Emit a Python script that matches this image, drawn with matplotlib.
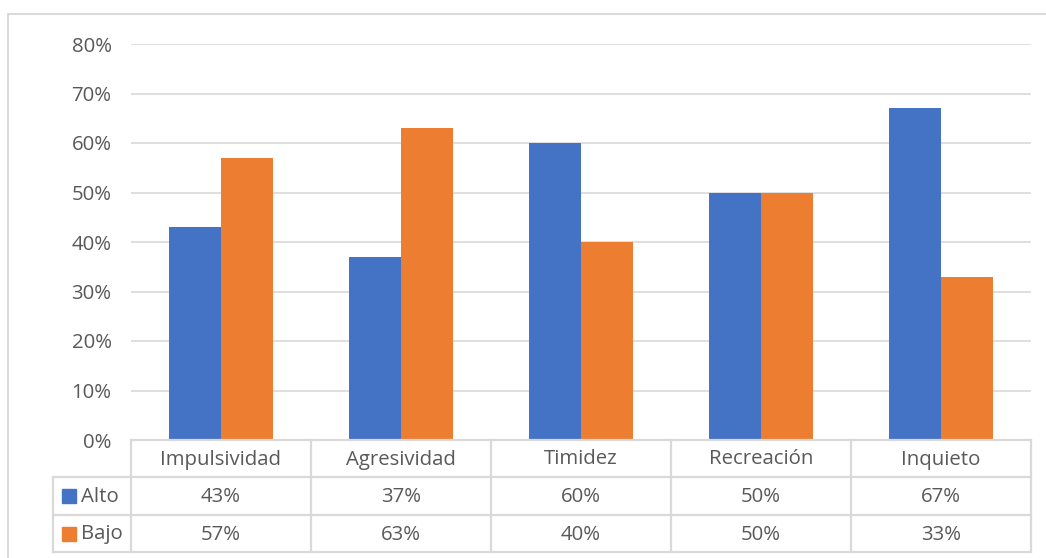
import matplotlib
matplotlib.use("Agg")
import matplotlib.pyplot as plt
from matplotlib.patches import Rectangle
from matplotlib.lines import Line2D

categories = ["Impulsividad", "Agresividad", "Timidez", "Recreación", "Inquieto"]
series_names = ["Alto", "Bajo"]
alto = [0.43, 0.37, 0.60, 0.50, 0.67]
bajo = [0.57, 0.63, 0.40, 0.50, 0.33]
yticks = [0.0, 0.1, 0.2, 0.3, 0.4, 0.5, 0.6, 0.7, 0.8]

BLUE = "#4472C4"
ORANGE = "#ED7D31"
GRID = "#D9D9D9"
TXT = "#595959"
FONT = "Open Sans"
FS = 14.7

W, H = 1046, 558
fig = plt.figure(figsize=(W / 100, H / 100), dpi=100)

def fx(x):
    return x / W

def fy(y):
    return 1 - y / H

# outer border (cropped at right and bottom like the reference)
fig.add_artist(Rectangle((fx(8), fy(570)), fx(1060) - fx(8), fy(14) - fy(570),
                         transform=fig.transFigure, fill=False, edgecolor=GRID, lw=1.4))

left, right, top, bottom = 131, 1031, 44, 440
ax = fig.add_axes([fx(left), fy(bottom), fx(right) - fx(left), fy(top) - fy(bottom)])
n = len(categories)
w = 52 / 180
xs = list(range(n))
ax.bar([x - w / 2 for x in xs], alto, width=w, color=BLUE, zorder=3)
ax.bar([x + w / 2 for x in xs], bajo, width=w, color=ORANGE, zorder=3)
ax.set_xlim(-0.5, n - 0.5)
ax.set_ylim(0, 0.8)
ax.set_yticks(yticks)
ax.set_yticklabels([f"{int(round(t * 100))}%" for t in yticks], fontsize=FS, color=TXT, family=FONT)
ax.set_xticks([])
ax.tick_params(axis="y", length=0, pad=14)
for s in ax.spines.values():
    s.set_visible(False)
ax.yaxis.grid(True, color=GRID, lw=1.2, zorder=0)
ax.set_axisbelow(True)

# data table
def hline(y, x0, x1):
    fig.add_artist(Line2D([fx(x0), fx(x1)], [fy(y), fy(y)], transform=fig.transFigure, color=GRID, lw=1.6))

def vline(x, y0, y1):
    fig.add_artist(Line2D([fx(x), fx(x)], [fy(y0), fy(y1)], transform=fig.transFigure, color=GRID, lw=1.6))

rows_y = [440, 477, 515, 552]
hline(440, 131, 1031)
for y in rows_y[1:]:
    hline(y, 53, 1031)
vline(53, 477, 552)
col_w = (right - left) / n
for i in range(n + 1):
    vline(left + i * col_w, 440, 552)

for i, c in enumerate(categories):
    cx = left + (i + 0.5) * col_w
    fig.text(fx(cx), fy((rows_y[0] + rows_y[1]) / 2 + 1), c, ha="center", va="center",
             fontsize=FS, color=TXT, family=FONT)

for r, (name, vals, col) in enumerate(zip(series_names, [alto, bajo], [BLUE, ORANGE])):
    cy = (rows_y[r + 1] + rows_y[r + 2]) / 2
    fig.add_artist(Rectangle((fx(62), fy(cy + 7)), fx(14), fy(cy - 7) - fy(cy + 7),
                             transform=fig.transFigure, color=col))
    fig.text(fx(81), fy(cy + 1), name, ha="left", va="center", fontsize=FS, color=TXT, family=FONT)
    for i, v in enumerate(vals):
        cx = left + (i + 0.5) * col_w
        fig.text(fx(cx), fy(cy + 1), f"{int(round(v * 100))}%", ha="center", va="center",
                 fontsize=FS, color=TXT, family=FONT)

fig.savefig("out.png", dpi=100)
